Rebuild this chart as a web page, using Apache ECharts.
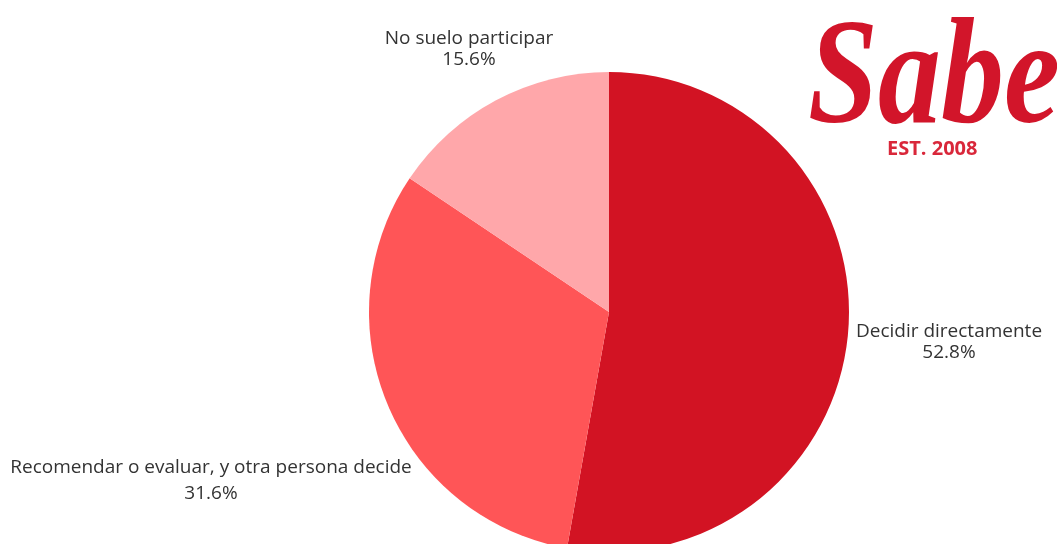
<!DOCTYPE html>
<html>
<head>
<meta charset="utf-8">
<title>Participación en decisiones</title>
<script src="https://cdn.jsdelivr.net/npm/echarts@6/dist/echarts.min.js"></script>
<style>
  html, body { margin: 0; padding: 0; background: #ffffff; }
  #chart { width: 1057px; height: 544px; }
</style>
</head>
<body>
<div id="chart"></div>
<script>
// Categories and their shares (percent)
const categories = [
  'Decidir directamente',
  'Recomendar o evaluar, y otra persona decide',
  'No suelo participar'
];
const shares = [52.8, 31.6, 15.6];
const sliceColors = ['#D21323', '#FF5557', '#FFA7AA'];

// Where each label block is centred, and its line spacing
const labelAnchors = [
  { x: 949, y: 342, lineHeight: 21 },
  { x: 211, y: 481, lineHeight: 26 },
  { x: 469, y: 49, lineHeight: 21 }
];

const chart = echarts.init(document.getElementById('chart'), null, { renderer: 'canvas' });

chart.setOption({
  backgroundColor: '#ffffff',
  animation: false,
  graphic: [
    {
      type: 'text',
      x: 808,
      y: 8,
      scaleX: 0.84,
      style: {
        text: 'Sabe',
        fill: '#D2152A',
        font: 'italic bold 150px "Liberation Serif", serif'
      }
    },
    {
      type: 'text',
      left: 887,
      top: 139,
      style: {
        text: 'EST. 2008',
        fill: '#D9273A',
        font: 'bold 20px "Open Sans", sans-serif'
      }
    }
  ],
  series: [
    {
      type: 'pie',
      center: [609, 312],
      radius: 240,
      startAngle: 90,
      clockwise: true,
      avoidLabelOverlap: false,
      itemStyle: { borderWidth: 0 },
      label: {
        show: true,
        position: 'outside',
        formatter: function (p) { return p.name + '\n' + p.value.toFixed(1) + '%'; },
        color: '#333333',
        fontFamily: '"Open Sans", sans-serif',
        fontSize: 19,
        align: 'center'
      },
      labelLine: { show: false },
      labelLayout: function (p) {
        const a = labelAnchors[p.dataIndex];
        return { x: a.x, y: a.y, align: 'center', verticalAlign: 'middle' };
      },
      data: categories.map(function (name, i) {
        return {
          name: name,
          value: shares[i],
          itemStyle: { color: sliceColors[i] },
          label: { lineHeight: labelAnchors[i].lineHeight }
        };
      })
    }
  ]
});
</script>
</body>
</html>
